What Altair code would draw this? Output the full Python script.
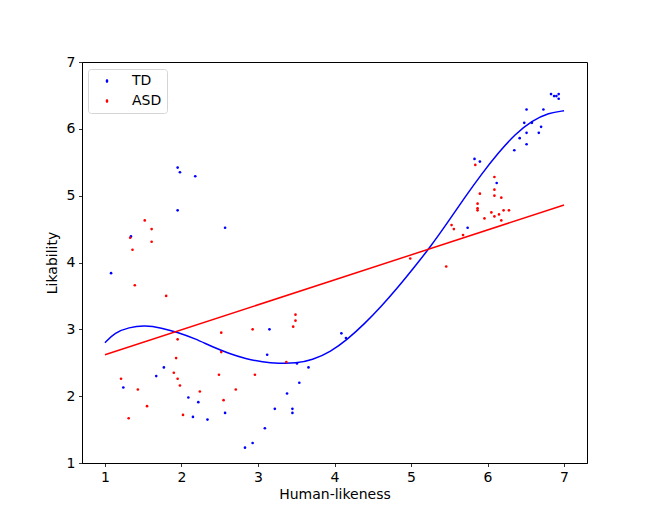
import altair as alt
import pandas as pd

# TD group (blue)
td_x = [1.95, 1.98, 2.18, 1.95, 2.57, 1.34, 1.08, 3.15, 3.12, 1.77, 1.67, 1.24,
        3.38, 2.09, 2.22, 3.22, 3.45, 3.45, 2.15, 2.57, 2.34, 3.09, 2.93, 2.83,
        3.51, 3.66, 3.54, 4.09, 4.15, 5.83, 5.90, 6.12, 5.74, 6.83, 6.87, 6.90,
        6.93, 6.93, 6.51, 6.73, 6.48, 6.58, 6.70, 6.51, 6.67, 6.42, 6.51, 6.35]
td_y = [5.42, 5.35, 5.29, 4.78, 4.52, 4.39, 3.84, 3.00, 2.62, 2.43, 2.30, 2.13,
        2.04, 1.98, 1.91, 1.81, 1.81, 1.75, 1.69, 1.75, 1.65, 1.52, 1.30, 1.23,
        2.49, 2.43, 2.20, 2.94, 2.87, 5.55, 5.51, 5.19, 4.52, 6.52, 6.49, 6.49,
        6.52, 6.45, 6.29, 6.29, 6.09, 6.09, 6.03, 5.94, 5.94, 5.86, 5.77, 5.68]

# ASD group (red)
asd_x = [1.52, 1.61, 1.33, 1.61, 1.36, 1.39, 1.80, 3.49, 3.49, 3.46, 2.52, 2.93,
         1.95, 2.52, 3.37, 1.93, 1.90, 2.49, 2.96, 1.21, 1.95, 1.98, 1.43, 2.24,
         2.71, 2.55, 1.55, 2.02, 1.31, 5.84, 6.09, 6.09, 5.90, 6.09, 6.18, 5.87,
         5.87, 5.87, 6.05, 6.21, 6.28, 6.15, 6.09, 6.18, 5.96, 5.53, 5.56, 5.68,
         5.46, 4.99]
asd_y = [4.63, 4.50, 4.37, 4.31, 4.19, 3.66, 3.50, 3.22, 3.13, 3.04, 2.95, 3.00,
         2.85, 2.66, 2.51, 2.57, 2.35, 2.32, 2.32, 2.26, 2.26, 2.16, 2.10, 2.07,
         2.10, 1.94, 1.85, 1.72, 1.67, 5.46, 5.28, 5.09, 5.03, 5.00, 4.97, 4.88,
         4.81, 4.78, 4.75, 4.78, 4.78, 4.72, 4.69, 4.63, 4.66, 4.56, 4.50, 4.41,
         3.94, 4.06]

# Fitted curves
td_fit_x = [1.0, 1.13, 1.31, 1.525, 1.74, 1.94, 2.18, 2.40, 2.62, 2.84, 3.06,
            3.27, 3.49, 3.71, 3.95, 4.17, 4.39, 4.61, 4.83, 5.05, 5.25, 5.48,
            5.70, 5.92, 6.14, 6.36, 6.58, 6.80, 7.0]
td_fit_y = [2.80, 2.95, 3.03, 3.06, 3.02, 2.96, 2.86, 2.74, 2.64, 2.56, 2.51,
            2.49, 2.49, 2.54, 2.665, 2.85, 3.08, 3.34, 3.63, 3.94, 4.23, 4.60,
            4.97, 5.32, 5.64, 5.92, 6.12, 6.24, 6.27]
asd_fit_x = [1.0, 7.0]
asd_fit_y = [2.62, 4.86]

groups = ["TD", "ASD"]
colors = ["blue", "red"]
ticks = [1, 2, 3, 4, 5, 6, 7]

df = pd.DataFrame({
    "x": td_x + asd_x,
    "y": td_y + asd_y,
    "group": ["TD"] * len(td_x) + ["ASD"] * len(asd_x),
})
td_fit_df = pd.DataFrame({"x": td_fit_x, "y": td_fit_y})
asd_fit_df = pd.DataFrame({"x": asd_fit_x, "y": asd_fit_y})

xscale = alt.Scale(domain=[0.7, 7.3], nice=False, zero=False)
yscale = alt.Scale(domain=[1, 7], nice=False, zero=False)
xaxis = alt.Axis(values=ticks, title="Human-likeness", grid=False, format="d")
yaxis = alt.Axis(values=ticks, title="Likability", grid=False, format="d")

dot = "M1.2,0 L1.12,0.2 L1,0.28 L0.88,0.2 L0.8,0 L0.88,-0.2 L1,-0.28 L1.12,-0.2 Z"

points = alt.Chart(df).mark_circle(size=7, opacity=1).encode(
    x=alt.X("x:Q", scale=xscale, axis=xaxis),
    y=alt.Y("y:Q", scale=yscale, axis=yaxis),
    color=alt.Color(
        "group:N",
        scale=alt.Scale(domain=groups, range=colors),
        legend=alt.Legend(
            title=None, orient="none", legendX=6, legendY=7,
            symbolType=dot, symbolSize=196, symbolStrokeWidth=0,
            labelOffset=25, rowPadding=6, padding=5,
            strokeColor="#d5d5d5", fillColor="white", cornerRadius=3,
            labelFontSize=14, labelFont="DejaVu Sans", labelColor="black",
        ),
    ),
)

td_fit = alt.Chart(td_fit_df).mark_line(
    color="blue", strokeWidth=1.5, interpolate="basis"
).encode(x=alt.X("x:Q", scale=xscale), y=alt.Y("y:Q", scale=yscale))

asd_fit = alt.Chart(asd_fit_df).mark_line(color="red", strokeWidth=1.5).encode(
    x=alt.X("x:Q", scale=xscale), y=alt.Y("y:Q", scale=yscale)
)

chart = alt.layer(td_fit, asd_fit, points).properties(
    width=505, height=401,
    autosize=alt.AutoSizeParams(type="none"),
    padding={"left": 74, "top": 54, "right": 55, "bottom": 45},
).configure_view(
    stroke="black", strokeWidth=1
).configure_axis(
    labelFont="DejaVu Sans", titleFont="DejaVu Sans",
    labelFontSize=14, titleFontSize=14, titleFontWeight="normal",
    labelColor="black", titleColor="black",
    tickColor="black", domainColor="black",
    tickSize=3.5, tickWidth=0.8, domainWidth=0.8, labelPadding=3.5,
).configure_axisX(
    titlePadding=3
).configure_axisY(
    titlePadding=7
)

chart.save("out.html", embed_options={"renderer": "svg", "actions": False})
